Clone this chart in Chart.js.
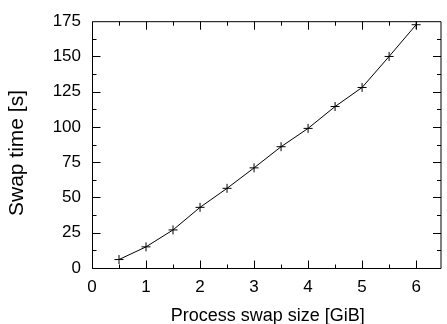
<!DOCTYPE html>
<html>
<head>
<meta charset="utf-8">
<script src="https://cdn.jsdelivr.net/npm/chart.js@4/dist/chart.umd.min.js"></script>
<style>
  html, body { margin: 0; padding: 0; background: #fff; }
  #wrap { width: 447px; height: 324px; }
</style>
</head>
<body>
<div id="wrap"><canvas id="myChart" width="447" height="324"></canvas></div>
<script>
// swap size in GiB
const swapSize = [0.5, 1, 1.5, 2, 2.5, 3, 3.5, 4, 4.5, 5, 5.5, 6];
// measured swap time in seconds
const swapTime = [6, 15, 27, 43, 56.5, 71, 86, 99, 114.5, 128, 150, 172.5];

const xTicks = [0, 1, 2, 3, 4, 5, 6];
const yTicks = [0, 25, 50, 75, 100, 125, 150, 175];
const xMinor = [0.5, 1.5, 2.5, 3.5, 4.5, 5.5, 6.5];
const yMinor = [12.5, 37.5, 62.5, 87.5, 112.5, 137.5, 162.5];

const xTitle = "Process swap size [GiB]";
const yTitle = "Swap time [s]";

const FONT = '"Liberation Sans", Arial, Helvetica, sans-serif';

// gnuplot style frame with ticks on all four sides, pointing inward
const framePlugin = {
  id: "frame",
  afterDatasetsDraw(chart) {
    const ctx = chart.ctx;
    const a = chart.chartArea;
    const xs = chart.scales.x;
    const ys = chart.scales.y;
    const L = a.left + 0.5, R = a.right - 0.5, T = a.top + 0.5, B = a.bottom + 0.5;
    ctx.save();
    ctx.strokeStyle = "#000";
    ctx.lineWidth = 1;
    ctx.beginPath();
    ctx.rect(L, T, R - L, B - T);

    const tick = (vals, len) => {
      vals.forEach((v) => {
        const px = Math.round(xs.getPixelForValue(v)) + 0.5;
        if (px > R || px < L) return;
        ctx.moveTo(px, B); ctx.lineTo(px, B - len);
        ctx.moveTo(px, T); ctx.lineTo(px, T + len);
      });
    };
    const tickY = (vals, len) => {
      vals.forEach((v) => {
        const py = Math.round(ys.getPixelForValue(v)) + 0.5;
        if (py > B || py < T) return;
        ctx.moveTo(L, py); ctx.lineTo(L + len, py);
        ctx.moveTo(R, py); ctx.lineTo(R - len, py);
      });
    };
    tick(xTicks, 8);
    tick(xMinor, 4);
    tickY(yTicks, 8);
    tickY(yMinor, 4);
    ctx.stroke();

    // axis titles
    ctx.fillStyle = "#000";
    ctx.textAlign = "center";
    ctx.textBaseline = "alphabetic";
    ctx.font = "18px " + FONT;
    ctx.fillText(xTitle, (a.left + a.right) / 2 + 1, 321);
    ctx.translate(23, 153);
    ctx.rotate(-Math.PI / 2);
    ctx.font = "21px " + FONT;
    ctx.fillText(yTitle, 0, 0);
    ctx.restore();
  },
};

const ctx = document.querySelector("#myChart").getContext("2d");
const chart = new Chart(ctx, {
  type: "scatter",
  data: {
    datasets: [
      {
        label: "swap",
        data: swapSize.map((x, i) => ({ x: x, y: swapTime[i] })),
        showLine: true,
        borderColor: "#000",
        backgroundColor: "#000",
        borderWidth: 1,
        tension: 0,
        pointStyle: "cross",
        pointRadius: 4.5,
        pointBorderWidth: 1,
        pointBorderColor: "#000",
      },
    ],
  },
  options: {
    responsive: false,
    animation: false,
    devicePixelRatio: 1,
    layout: { padding: { top: 15, right: 1, left: 0, bottom: 0 } },
    plugins: {
      legend: { display: false },
      tooltip: { enabled: false },
    },
    scales: {
      x: {
        type: "linear",
        min: 0,
        max: 6.47,
        afterFit: (s) => { s.height = 56; },
        afterBuildTicks: (s) => { s.ticks = xTicks.map((v) => ({ value: v })); },
        grid: { display: false, drawTicks: false },
        border: { display: false },
        ticks: {
          padding: 9,
          color: "#000",
          font: { family: FONT, size: 17 },
          maxRotation: 0,
        },
      },
      y: {
        type: "linear",
        min: 0,
        max: 175,
        afterFit: (s) => { s.width = 92; },
        afterBuildTicks: (s) => { s.ticks = yTicks.map((v) => ({ value: v })); },
        grid: { display: false, drawTicks: false },
        border: { display: false },
        ticks: {
          padding: 11,
          color: "#000",
          font: { family: FONT, size: 17 },
        },
      },
    },
  },
  plugins: [framePlugin],
});
</script>
</body>
</html>
